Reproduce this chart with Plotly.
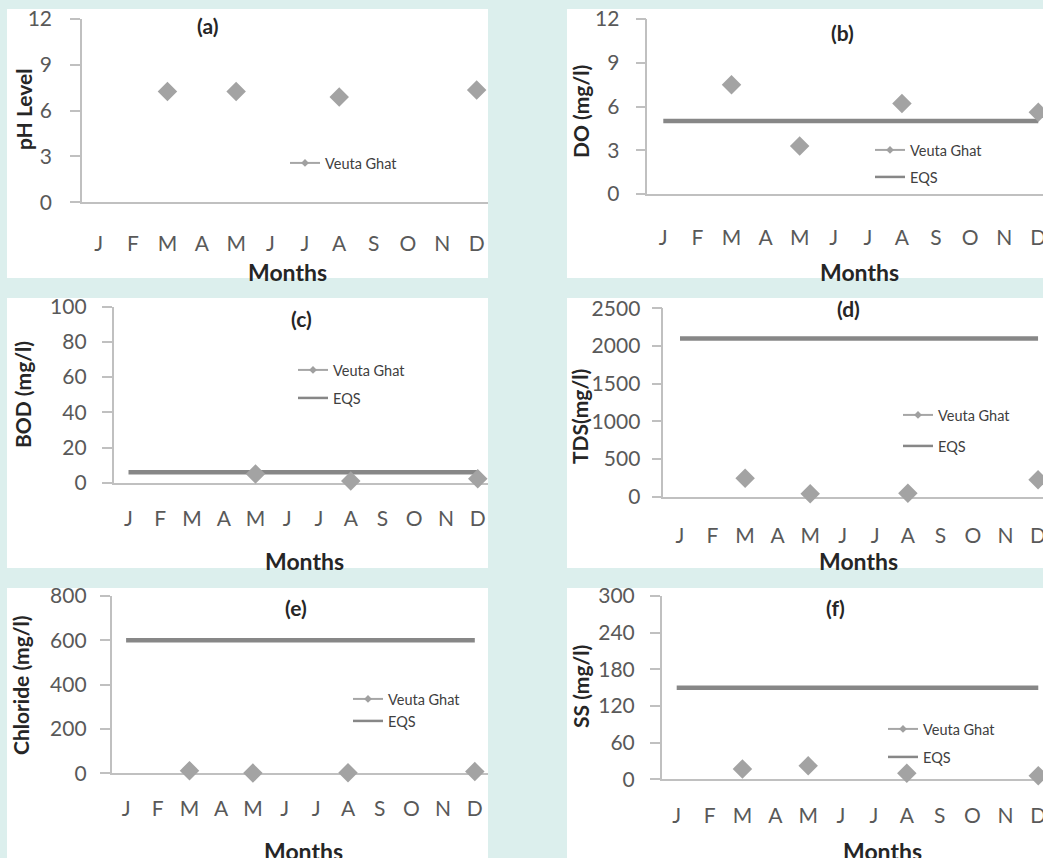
import plotly.graph_objects as go

W, H = 1043, 858

months = ["J", "F", "M", "A", "M", "J", "J", "A", "S", "O", "N", "D"]
month_idx = list(range(12))

# Veuta Ghat measurements (None = not sampled)
ph_vg = [None, None, 7.25, None, 7.25, None, None, 6.9, None, None, None, 7.35]
do_vg = [None, None, 7.5, None, 3.3, None, None, 6.2, None, None, None, 5.6]
bod_vg = [None, None, None, None, 5.0, None, None, 1.0, None, None, None, 2.2]
tds_vg = [None, None, 245, None, 40, None, None, 45, None, None, None, 225]
cl_vg = [None, None, 12, None, 1, None, None, 3, None, None, None, 8]
ss_vg = [None, None, 17, None, 22, None, None, 10, None, None, None, 6]

# EQS standards
do_eqs = [5, 5, 5, 5, 5, 5, 5, 5, 5, 5, 5, 5]
bod_eqs = [6, 6, 6, 6, 6, 6, 6, 6, 6, 6, 6, 6]
tds_eqs = [2100, 2100, 2100, 2100, 2100, 2100, 2100, 2100, 2100, 2100, 2100, 2100]
cl_eqs = [600, 600, 600, 600, 600, 600, 600, 600, 600, 600, 600, 600]
ss_eqs = [150, 150, 150, 150, 150, 150, 150, 150, 150, 150, 150, 150]

panel_letters = ["(a)", "(b)", "(c)", "(d)", "(e)", "(f)"]
y_titles = ["pH Level", "DO (mg/l)", "BOD (mg/l)", "TDS(mg/l)", "Chloride (mg/l)", "SS (mg/l)"]
y_ranges = [[0, 12], [0, 12], [0, 100], [0, 2500], [0, 800], [0, 300]]
y_dticks = [3, 3, 20, 500, 200, 60]
x_title = "Months"
series_name = "Veuta Ghat"
eqs_name = "EQS"

vg_data = [ph_vg, do_vg, bod_vg, tds_vg, cl_vg, ss_vg]
eqs_data = [None, do_eqs, bod_eqs, tds_eqs, cl_eqs, ss_eqs]

# ---- layout geometry (pixels) ----
BG = "#dcefed"
panels_px = [(7, 488, 9, 278), (567, 1043, 9, 278),
             (7, 488, 298, 568), (567, 1043, 298, 568),
             (7, 488, 588, 858), (567, 1043, 588, 858)]
# plot areas: x_left, x_right, y_top, y_bottom, first-category px, category spacing
plots_px = [
    (82, 488, 19, 202.3, 98.7, 34.36),
    (647.3, 1043, 19, 194, 663.3, 34.09),
    (113.6, 488, 306.7, 482.7, 128.5, 31.75),
    (663.3, 1043, 308.3, 496.7, 680.0, 32.55),
    (111.6, 488, 596, 773.3, 126.1, 31.7),
    (661.7, 1043, 596, 779.3, 676.7, 32.87),
]
xlab_gap = [41, 43, 35, 38, 35, 36]
ylab_gap = [27, 25, 24, 20, 22, 24]
title_pos = [(207, 26), (842, 33), (301, 318), (848, 308), (296, 607), (835, 607)]
ytitle_pos = [(24, 110), (580, 112), (22, 395), (579, 417), (20, 685), (580, 687)]
xtitle_pos = [(287, 272), (859, 272), (304, 561), (858, 561), (303, 851), (882, 851)]
legend_px = [(285, [163]), (870, [150, 177]), (293, [370, 398]),
             (898, [415, 446]), (348, [699, 721]), (883, [729, 757])]


def px_x(x):
    return x / W


def px_y(y):
    return 1 - y / H


FONT = "Lato"
TICK_COLOR = "#595959"
TITLE_COLOR = "#262626"
AXIS_COLOR = "#c0c0c0"
MARKER_COLOR = "#a3a3a3"
EQS_COLOR = "#878787"
TICK_SIZE = 21
TICKLEN = 10

fig = go.Figure()
layout = dict(
    width=W, height=H, margin=dict(l=0, r=0, t=0, b=0, autoexpand=False),
    paper_bgcolor=BG, plot_bgcolor="rgba(0,0,0,0)",
    showlegend=True, shapes=[], annotations=[],
    font=dict(family=FONT, color=TICK_COLOR),
)

legend_count = 0
for i in range(6):
    k = "" if i == 0 else str(i + 1)
    xl, xr, yt, yb, j0, sp = plots_px[i]
    x0, x1, y0, y1 = panels_px[i]
    layout["shapes"].append(dict(type="rect", xref="paper", yref="paper",
                                 x0=px_x(x0), x1=px_x(x1), y0=px_y(y1), y1=px_y(y0),
                                 fillcolor="white", line=dict(width=0), layer="below"))
    layout["xaxis" + k] = dict(
        domain=[px_x(xl), px_x(xr)], anchor="y" + k,
        range=[(xl - j0) / sp, (xr - j0) / sp],
        tickvals=month_idx, ticktext=months, ticks="",
        ticklabelstandoff=int(round(xlab_gap[i] - 19)),
        ticklabeloverflow="allow",
        tickfont=dict(family=FONT, size=TICK_SIZE, color=TICK_COLOR),
        showline=True, linecolor=AXIS_COLOR, linewidth=1.5,
        showgrid=False, zeroline=False, layer="below traces", fixedrange=True,
        automargin=False,
    )
    layout["yaxis" + k] = dict(
        domain=[px_y(yb), px_y(yt)], anchor="x" + k,
        range=y_ranges[i], dtick=y_dticks[i], tick0=0,
        ticks="outside", ticklen=TICKLEN, tickcolor=AXIS_COLOR, tickwidth=1.5,
        ticklabelstandoff=int(max(ylab_gap[i] - TICKLEN - 3, 0)),
        ticklabeloverflow="allow",
        tickfont=dict(family=FONT, size=TICK_SIZE, color=TICK_COLOR),
        showline=True, linecolor=AXIS_COLOR, linewidth=1.5,
        showgrid=False, zeroline=False, layer="below traces", fixedrange=True,
        automargin=False,
    )
    # panel letter
    tx, ty = title_pos[i]
    layout["annotations"].append(dict(text="<b>%s</b>" % panel_letters[i], x=px_x(tx), y=px_y(ty),
                                      xref="paper", yref="paper", showarrow=False,
                                      xanchor="center", yanchor="middle",
                                      font=dict(family=FONT, size=21, color=TITLE_COLOR)))
    ax, ay = ytitle_pos[i]
    layout["annotations"].append(dict(text="<b>%s</b>" % y_titles[i], x=px_x(ax), y=px_y(ay),
                                      xref="paper", yref="paper", showarrow=False, textangle=-90,
                                      xanchor="center", yanchor="middle",
                                      font=dict(family=FONT, size=21, color=TITLE_COLOR)))
    mx, my = xtitle_pos[i]
    layout["annotations"].append(dict(text="<b>%s</b>" % x_title, x=px_x(mx), y=px_y(my),
                                      xref="paper", yref="paper", showarrow=False,
                                      xanchor="center", yanchor="middle",
                                      font=dict(family=FONT, size=23, color=TITLE_COLOR)))

    # EQS line
    if eqs_data[i] is not None:
        fig.add_trace(go.Scatter(x=month_idx, y=eqs_data[i], mode="lines",
                                 line=dict(color=EQS_COLOR, width=4.5),
                                 xaxis="x" + k, yaxis="y" + k, showlegend=False,
                                 hoverinfo="skip", cliponaxis=False))
    # Veuta Ghat markers
    fig.add_trace(go.Scatter(x=month_idx, y=vg_data[i], mode="markers",
                             marker=dict(symbol="diamond", size=15, color=MARKER_COLOR),
                             xaxis="x" + k, yaxis="y" + k, showlegend=False,
                             cliponaxis=False, name=series_name))

    # legends (one per item so they can be placed freely)
    lx, lys = legend_px[i]
    items = [series_name] + ([eqs_name] if eqs_data[i] is not None else [])
    for item, ly in zip(items, lys):
        legend_count += 1
        lk = "legend" if legend_count == 1 else "legend%d" % legend_count
        layout[lk] = dict(x=px_x(lx), y=px_y(ly), xanchor="left", yanchor="middle",
                          xref="paper", yref="paper", bgcolor="rgba(0,0,0,0)",
                          borderwidth=0, font=dict(family=FONT, size=14.5, color="#404040"))
        if item == series_name:
            tr = go.Scatter(x=[None], y=[None], mode="lines+markers", name=item,
                            line=dict(color="#a6a6a6", width=2),
                            marker=dict(symbol="diamond", size=6, color="#a0a0a0"),
                            xaxis="x" + k, yaxis="y" + k, legend=lk, showlegend=True)
        else:
            tr = go.Scatter(x=[None], y=[None], mode="lines", name=item,
                            line=dict(color=EQS_COLOR, width=2.5),
                            xaxis="x" + k, yaxis="y" + k, legend=lk, showlegend=True)
        fig.add_trace(tr)

fig.update_layout(**layout)
fig.write_html("out.html")
